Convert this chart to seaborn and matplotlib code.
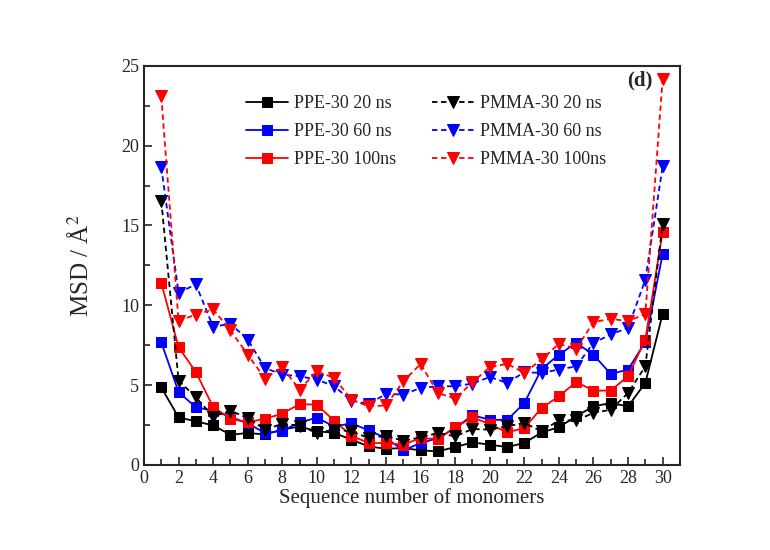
import matplotlib
matplotlib.use("Agg")
import matplotlib.pyplot as plt
import seaborn as sns
import pandas as pd
from matplotlib.ticker import MultipleLocator

monomers = list(range(1, 31))
ppe_20 = [4.85, 2.97, 2.72, 2.47, 1.88, 1.99, 1.9, 2.2, 2.4, 2.1, 2.0, 1.57, 1.15, 1.0, 1.05,
          0.90, 0.84, 1.11, 1.40, 1.26, 1.11, 1.36, 2.03, 2.35, 3.04, 3.66, 3.87, 3.66, 5.13, 9.46]
ppe_60 = [7.68, 4.56, 3.6, 3.4, 3.0, 2.6, 1.99, 2.13, 2.65, 2.95, 2.4, 2.6, 2.15, 1.67, 0.9,
          1.36, 1.67, 2.3, 3.1, 2.83, 2.8, 3.87, 6.0, 6.9, 7.64, 6.9, 5.69, 5.97, 7.7, 13.2]
ppe_100 = [11.41, 7.37, 5.82, 3.62, 2.89, 2.66, 2.89, 3.2, 3.81, 3.76, 2.76, 1.82, 1.36, 1.36, 1.26,
           1.67, 1.61, 2.34, 2.97, 2.55, 2.03, 2.3, 3.56, 4.29, 5.19, 4.65, 4.65, 5.55, 7.85, 14.6]
pmma_20 = [16.55, 5.28, 4.23, 3.02, 3.39, 2.93, 2.2, 2.57, 2.45, 1.99, 2.2, 2.1, 1.67, 1.82, 1.5,
           1.72, 1.99, 1.78, 2.24, 2.2, 2.41, 2.62, 2.09, 2.78, 2.78, 3.25, 3.45, 4.5, 6.17, 15.1]
pmma_60 = [18.65, 10.78, 11.31, 8.65, 8.84, 7.85, 6.07, 5.65, 5.55, 5.34, 4.92, 4.02, 3.81, 4.44, 4.4,
           4.82, 4.92, 4.92, 5.09, 5.5, 5.13, 5.8, 5.76, 5.97, 6.17, 7.64, 8.17, 8.58, 11.6, 18.7]
pmma_100 = [23.1, 9.0, 9.42, 9.74, 8.42, 6.91, 5.4, 6.11, 4.71, 5.86, 5.44, 4.08, 3.66, 3.72, 5.23,
            6.32, 4.5, 4.15, 5.17, 6.11, 6.33, 5.76, 6.6, 7.58, 7.27, 8.94, 9.15, 9.0, 9.45, 24.2]

labels = ["PPE-30 20 ns", "PPE-30 60 ns", "PPE-30 100ns",
          "PMMA-30 20 ns", "PMMA-30 60 ns", "PMMA-30 100ns"]
series = [ppe_20, ppe_60, ppe_100, pmma_20, pmma_60, pmma_100]
colors = ["black", "blue", "red", "black", "blue", "red"]
markers = ["s", "s", "s", "v", "v", "v"]
dashed = [False, False, False, True, True, True]

sns.set_style("ticks")
plt.rcParams["font.family"] = ["Liberation Serif", "DejaVu Serif"]
plt.rcParams["mathtext.fontset"] = "stix"

fig = plt.figure(figsize=(7.7, 5.5), dpi=100)
ax = fig.add_axes([0.187, 0.155, 0.696, 0.725])

for lab, vals, c, m, d in zip(labels, series, colors, markers, dashed):
    df = pd.DataFrame({"x": monomers, "y": vals})
    kw = dict(dashes=(3, 2)) if d else {}
    sns.lineplot(data=df, x="x", y="y", ax=ax, color=c, linewidth=1.3,
                 marker=m, markersize=7 if m == "s" else 8.5, markeredgecolor=c,
                 markerfacecolor=c, label=lab, **kw)

h, l = ax.get_legend_handles_labels()
leg = ax.legend(h, l, ncol=2, frameon=False, fontsize=13, loc="upper left",
                bbox_to_anchor=(0.16, 0.967), handlelength=2.3, columnspacing=2.0,
                labelspacing=0.6, handletextpad=0.35)

ax.set_xlim(0, 31)
ax.set_ylim(0, 25)
ax.xaxis.set_major_locator(MultipleLocator(2))
ax.xaxis.set_minor_locator(MultipleLocator(1))
ax.yaxis.set_major_locator(MultipleLocator(5))
ax.yaxis.set_minor_locator(MultipleLocator(2.5))
ax.tick_params(which="both", direction="in", width=1.2, labelsize=13)
ax.tick_params(which="major", length=6)
ax.tick_params(which="minor", length=4)
for s in ax.spines.values():
    s.set_linewidth(1.5)
    s.set_visible(True)

ax.set_xlabel("Sequence number of monomers", fontsize=15, labelpad=1)
ax.set_ylabel("MSD / Å$^2$", fontsize=18, labelpad=20)
ax.text(0.948, 0.99, "(d)", transform=ax.transAxes, ha="right", va="top",
        fontsize=15, fontweight="bold")

fig.savefig("out.png", dpi=100, facecolor="white")
